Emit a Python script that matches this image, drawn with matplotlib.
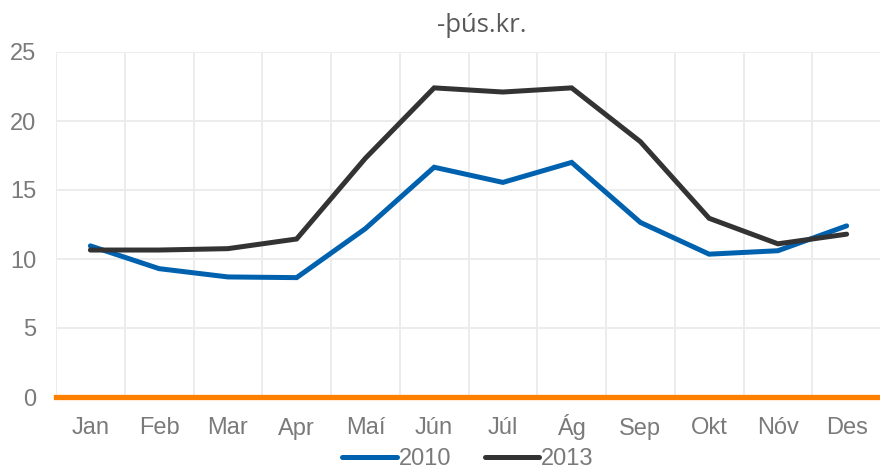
import matplotlib
matplotlib.use("Agg")
import matplotlib.pyplot as plt

months = ["Jan", "Feb", "Mar", "Apr", "Maí", "Jún", "Júl", "Ág", "Sep", "Okt", "Nóv", "Des"]
y2010 = [10.95, 9.3, 8.7, 8.65, 12.2, 16.65, 15.55, 17.0, 12.65, 10.35, 10.6, 12.4]
y2013 = [10.65, 10.65, 10.75, 11.45, 17.3, 22.4, 22.1, 22.4, 18.5, 12.95, 11.1, 11.8]
yticks = [0, 5, 10, 15, 20, 25]

plt.rcParams['font.family'] = ['Liberation Sans', 'DejaVu Sans']
txt = '#7a7a7a'
FS = 17

fig = plt.figure(figsize=(8.8, 4.7), dpi=100)
ax = fig.add_axes([56/880, 1-397/470, (881-56)/880, (397-52)/470])

x = list(range(len(months)))
l1, = ax.plot(x, y2010, color='#0062AE', lw=3.6, solid_capstyle='round', solid_joinstyle='miter', zorder=3, label='2010')
l2, = ax.plot(x, y2013, color='#333333', lw=3.6, solid_capstyle='round', solid_joinstyle='miter', zorder=4, label='2013')
ax.axhline(0, color='#FF7F00', lw=3.8, zorder=5, clip_on=False)

ax.set_xlim(-0.5, 11.5)
ax.set_ylim(0, 25)
ax.set_yticks(yticks)
ax.set_xticks(x)
ax.set_xticklabels(months)
ax.grid(False)
for yv in yticks[1:]:
    ax.axhline(yv, color='#EBEBEB', lw=1.3, zorder=1)
for xv in [i + 0.5 for i in range(-1, 12)]:
    ax.axvline(xv, color='#EBEBEB', lw=1.3, zorder=1)
for s in ax.spines.values():
    s.set_visible(False)
ax.tick_params(axis='both', which='both', length=0, labelsize=FS, colors=txt)
ax.tick_params(axis='x', pad=27)
ax.tick_params(axis='y', pad=14)
for lab in ax.get_xticklabels():
    lab.set_verticalalignment('baseline')

fig.text(482/880, 1-25/470, '-þús.kr.', ha='center', va='center', fontsize=18.5,
         color='#595959', family=['Open Sans', 'DejaVu Sans'])

leg = fig.legend(handles=[l1, l2], loc='center', bbox_to_anchor=(468/880, 1-459/470), ncol=2,
                 frameon=False, fontsize=FS, handlelength=2.3, handletextpad=0.1, columnspacing=1.4,
                 labelcolor=txt)

fig.savefig('out.png', dpi=100)
